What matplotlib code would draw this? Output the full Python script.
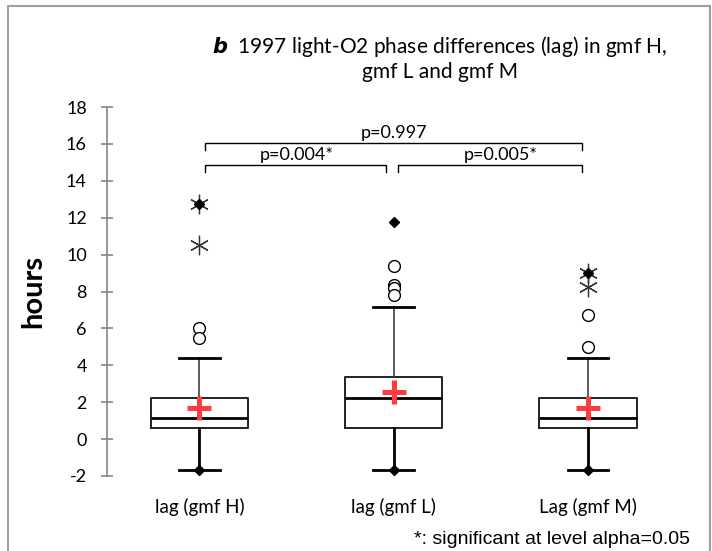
import matplotlib.pyplot as plt
from matplotlib.patches import Rectangle

plt.rcParams['axes.unicode_minus'] = False

labels = ['lag (gmf H)', 'lag (gmf L)', 'Lag (gmf M)']
q1 = [0.6, 0.6, 0.6]
medians = [1.14, 2.22, 1.14]
q3 = [2.22, 3.36, 2.22]
whisk_lo = [-1.68, -1.68, -1.68]
whisk_hi = [4.4, 7.15, 4.4]
means = [1.68, 2.55, 1.68]
maxima = [12.74, 11.76, 9.0]
minima = [-1.68, -1.68, -1.68]
mild_out = [[6.0, 5.5], [9.4, 8.35, 8.2, 7.8], [6.7, 5.0]]
extreme_out = [[12.74, 10.5], [], [9.0, 8.25]]

# pairwise tests: (group a, group b, label, bracket height)
tests = [(1, 3, 'p=0.997', 16.05), (1, 2, 'p=0.004*', 14.85), (2, 3, 'p=0.005*', 14.85)]

fig = plt.figure(figsize=(7.12, 5.51), dpi=100)
ax = fig.add_axes([107 / 712, 1 - 476 / 551, (690 - 107) / 712, (476 - 107) / 551])

stats = []
for i in range(len(labels)):
    stats.append(dict(label=labels[i], q1=q1[i], med=medians[i], q3=q3[i],
                      whislo=whisk_lo[i], whishi=whisk_hi[i], mean=means[i], fliers=[]))

pos = [1, 2, 3]
bp = ax.bxp(stats, positions=pos, widths=0.5, showmeans=True, showfliers=False,
            capwidths=0.21, manage_ticks=False,
            boxprops=dict(color='#222222', lw=1.4),
            medianprops=dict(color='black', lw=2),
            capprops=dict(color='black', lw=2),
            meanprops=dict(marker='+', markersize=17, markeredgewidth=3.6,
                           markeredgecolor='#FF3B3B'))
for k, w in enumerate(bp['whiskers']):
    if k % 2 == 0:
        w.set(color='black', lw=2)
    else:
        w.set(color='#404040', lw=1.2)

for i, p in enumerate(pos):
    ax.plot([p] * len(mild_out[i]), mild_out[i], 'o', mfc='white', mec='black',
            mew=1, ms=8.5, ls='none')
    ax.plot([p] * len(extreme_out[i]), extreme_out[i], marker=(6, 2, 0), color='#333333',
            ms=14, mew=0.9, ls='none')
    ax.plot([p, p], [maxima[i], minima[i]], 'D', color='black', ms=5.5, ls='none')

for a, b, txt, h in tests:
    xa = a + 0.03
    xb = b - 0.03
    if a == 1 and b == 2:
        xb = b - 0.04
    if a == 2:
        xa = a + 0.02
    ax.plot([xa, xa, xb, xb], [h - 0.4, h, h, h - 0.4], color='black', lw=1)
    ax.text((a + b) / 2 + (0.05 if a == 2 else 0), h + 0.1, txt, ha='center', va='bottom',
            fontsize=13, family='Lato')

ax.set_xlim(0.524, 3.525)
ax.set_ylim(-2, 18)
ax.set_yticks(range(-2, 19, 2))
ax.set_xticks(pos)
ax.set_xticklabels(labels, fontsize=13.5, family='Lato')
ax.tick_params(axis='x', length=0, pad=16)
ax.tick_params(axis='y', direction='inout', length=9, color='#868686', width=1.2,
               labelsize=13, pad=10)
for t in ax.get_yticklabels():
    t.set_family('Lato')
for s in ['top', 'right', 'bottom']:
    ax.spines[s].set_visible(False)
ax.spines['left'].set_color('#868686')
ax.spines['left'].set_linewidth(1.2)

ax.set_ylabel('hours', fontsize=21, fontweight='bold', family='Lato', labelpad=14)

fig.text(440 / 712, 1 - 58 / 551,
         r'$\boldsymbol{b}$' + '  1997 light-O2 phase differences (lag) in gmf H,\ngmf L and gmf M',
         ha='center', va='center', fontsize=15, family='Lato', linespacing=1.2)
fig.text(690 / 712, 1 - 540 / 551, '*: significant at level alpha=0.05',
         ha='right', va='center', fontsize=14, family='Liberation Sans')

fig.patches.append(Rectangle((8 / 712, -0.1), (710 - 8) / 712, 1.1 - 6 / 551,
                             transform=fig.transFigure, fill=False,
                             edgecolor='#A0A0A0', lw=1.5))

fig.savefig('out.png', dpi=100)
